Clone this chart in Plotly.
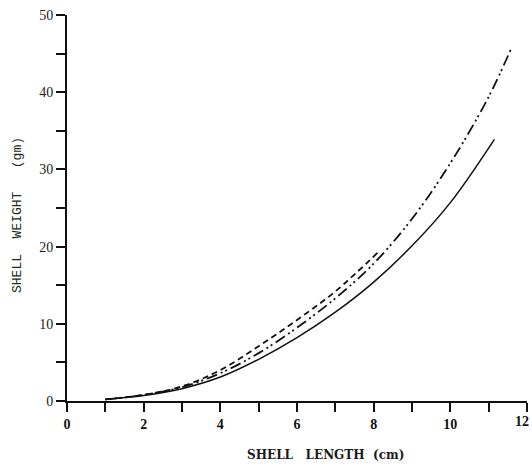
import plotly.graph_objects as go

# Shell length (cm) vs shell weight (gm) for three curves
solid_x = [1.0, 2.0, 3.0, 4.0, 5.0, 6.0, 7.0, 8.0, 9.0, 10.0, 11.15]
solid_y = [0.2, 0.7, 1.6, 3.1, 5.4, 8.2, 11.5, 15.4, 20.1, 25.7, 33.9]

dashdot_x = [1.0, 2.0, 3.0, 4.0, 5.0, 6.0, 7.0, 8.0, 9.0, 10.0, 11.0, 11.6]
dashdot_y = [0.2, 0.8, 1.8, 3.6, 6.2, 9.5, 13.3, 17.8, 23.6, 30.8, 39.4, 45.8]

dashed_x = [1.0, 2.0, 3.0, 4.0, 5.0, 6.0, 7.0, 8.1]
dashed_y = [0.2, 0.8, 1.9, 4.0, 7.1, 10.5, 14.2, 19.2]

x_tickvals = list(range(0, 13))
x_ticktext = ["0", "", "2", "", "4", "", "6", "", "8", "", "10", "", "12"]
y_tickvals = [0, 5, 10, 15, 20, 25, 30, 35, 40, 45, 50]
y_ticktext = ["0", "", "10", "", "20", "", "30", "", "40", "", "50"]

ink = "#111111"
fig = go.Figure()
fig.add_trace(go.Scatter(x=solid_x, y=solid_y, mode="lines",
                         line=dict(color=ink, width=1.5, shape="spline", smoothing=1.0),
                         showlegend=False))
fig.add_trace(go.Scatter(x=dashdot_x, y=dashdot_y, mode="lines",
                         line=dict(color=ink, width=1.8, shape="spline", smoothing=1.0,
                                   dash="11px,4px,2px,3px,2px,4px"), showlegend=False))
fig.add_trace(go.Scatter(x=dashed_x, y=dashed_y, mode="lines",
                         line=dict(color=ink, width=1.8, shape="spline", smoothing=1.0,
                                   dash="6px,4px"), showlegend=False))

xtickfont = dict(family="Liberation Serif", size=14, color="#111", weight="bold")
ytickfont = dict(family="Liberation Serif", size=14, color="#222")
fig.update_xaxes(range=[0, 12], tickvals=x_tickvals, ticktext=x_ticktext,
                 ticks="outside", ticklen=9, tickwidth=2, tickcolor=ink,
                 showline=True, linecolor=ink, linewidth=2, showgrid=False,
                 zeroline=False, tickfont=xtickfont)
fig.update_yaxes(range=[0, 50], tickvals=y_tickvals, ticktext=y_ticktext,
                 ticks="outside", ticklen=9, tickwidth=2, tickcolor=ink,
                 showline=True, linecolor=ink, linewidth=2, showgrid=False,
                 zeroline=False, tickfont=ytickfont)

# "12" tick label sits at the page edge; anchor it so it stays fully visible
fig.add_annotation(text=x_ticktext[-1], x=1.0, xref="paper", xshift=4,
                   y=(401 - 421) / 386, yref="paper",
                   showarrow=False, font=xtickfont, xanchor="right", yanchor="middle")

fig.add_annotation(text="SHELL\u00a0\u00a0\u00a0LENGTH\u00a0\u00a0(cm)", xref="paper", yref="paper",
                   x=(325 - 67) / 460, y=(401 - 455) / 386, showarrow=False,
                   font=dict(family="DejaVu Serif", size=12, color="#1a1a1a", weight="bold"),
                   xanchor="center", yanchor="middle")
fig.add_annotation(text="SHELL\u00a0\u00a0WEIGHT\u00a0\u00a0\u00a0(gm)", xref="paper", yref="paper",
                   x=(17 - 67) / 460, y=(401 - 215) / 386, showarrow=False,
                   font=dict(family="Liberation Mono", size=13, color="#1c2a1c"),
                   textangle=-90, xanchor="center", yanchor="middle")

fig.update_layout(width=532, height=467, margin=dict(l=67, r=5, t=15, b=66),
                  plot_bgcolor="white", paper_bgcolor="white")
fig.write_html("out.html")
